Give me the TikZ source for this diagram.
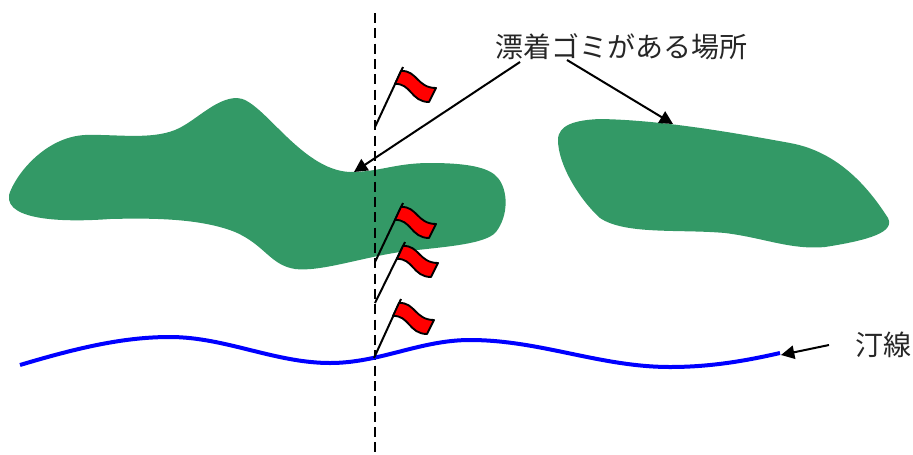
\documentclass[tikz,border=0pt]{standalone}
\usepackage{fontspec}
\newfontfamily\jpfont{Noto Sans CJK JP}
\usetikzlibrary{arrows.meta}
\definecolor{blobgreen}{RGB}{51,153,102}
\tikzset{
  blob/.style={fill=blobgreen,draw=none},
  leader/.style={draw=black,line width=1.5pt,-{Triangle[length=10pt,width=10pt]}},
  label/.style={font=\jpfont\fontsize{21}{25}\selectfont,inner sep=0pt,text=black!85},
  flagcloth/.style={fill=red,draw=black,line width=1.4pt,line join=round},
  pole/.style={draw=black,line width=1.5pt}
}
\newcommand{\flagat}[3]{%
  \coordinate (#1-top) at #3;
  \coordinate (#1-base) at #2;
  \draw[pole] (#1-base) -- (#1-top);
  \draw[flagcloth] ([shift={(-2,4)}]#1-top)
    .. controls ([shift={(14,3)}]#1-top) and ([shift={(14,21)}]#1-top) .. ([shift={(33,21)}]#1-top)
    -- ([shift={(26,35)}]#1-top)
    .. controls ([shift={(8,35)}]#1-top) and ([shift={(8,16)}]#1-top) .. ([shift={(-8,17)}]#1-top)
    -- cycle;
}
\begin{document}
\begin{tikzpicture}[x=0.75pt,y=-0.75pt]
\useasboundingbox (0,0) rectangle (913,454);
\fill[blob] (9,195)
  .. controls (15,175) and (45,137) .. (85,135)
  .. controls (115,134) and (150,140) .. (175,130)
  .. controls (195,122) and (215,98) .. (237,98)
  .. controls (262,98) and (300,170) .. (350,172)
  .. controls (380,172) and (395,163) .. (430,163)
  .. controls (470,163) and (490,168) .. (498,178)
  .. controls (508,190) and (509,215) .. (496,232)
  .. controls (485,245) and (440,247) .. (400,252)
  .. controls (360,258) and (320,272) .. (295,269)
  .. controls (270,265) and (265,245) .. (235,232)
  .. controls (200,218) and (150,218) .. (110,219)
  .. controls (70,222) and (5,222) .. (9,195) -- cycle;
\fill[blob] (558,140)
  .. controls (558,125) and (575,120) .. (600,119)
  .. controls (660,120) and (730,132) .. (790,143)
  .. controls (840,152) and (870,190) .. (888,218)
  .. controls (895,232) and (870,240) .. (825,247)
  .. controls (790,250) and (765,238) .. (725,233)
  .. controls (680,229) and (625,235) .. (600,218)
  .. controls (580,200) and (558,165) .. (558,140) -- cycle;
\coordinate (dashtop) at (375,13);
\coordinate (dashbot) at (375,452);
\draw[black,line width=1.5pt,dash pattern=on 7.5pt off 4pt] (dashtop) -- (dashbot);
\draw[blue,line width=3pt] (20,365)
  .. controls (80,347) and (125,337) .. (170,337)
  .. controls (225,337) and (275,363) .. (330,363)
  .. controls (380,363) and (420,340) .. (470,340)
  .. controls (540,340) and (600,367) .. (670,367)
  .. controls (710,367) and (745,361) .. (780,353);
\flagat{f1}{(375,127)}{(403,67)}
\flagat{f2}{(375,262)}{(403,203)}
\flagat{f3}{(375,303)}{(405,242)}
\flagat{f4}{(374,358)}{(401,299)}
\node[label,anchor=center] (dirt) at (621,47) {漂着ゴミがある場所};
\node[label,anchor=center] (shore) at (883,345) {汀線};
\coordinate (t1s) at (520,62);
\coordinate (t1e) at (354,172);
\coordinate (t2s) at (567,60);
\coordinate (t2e) at (673,124);
\coordinate (t3s) at (829,345);
\coordinate (t3e) at (781,355);
\draw[leader] (t1s) -- (t1e);
\draw[leader] (t2s) -- (t2e);
\draw[leader] (t3s) -- (t3e);
\end{tikzpicture}
\end{document}
